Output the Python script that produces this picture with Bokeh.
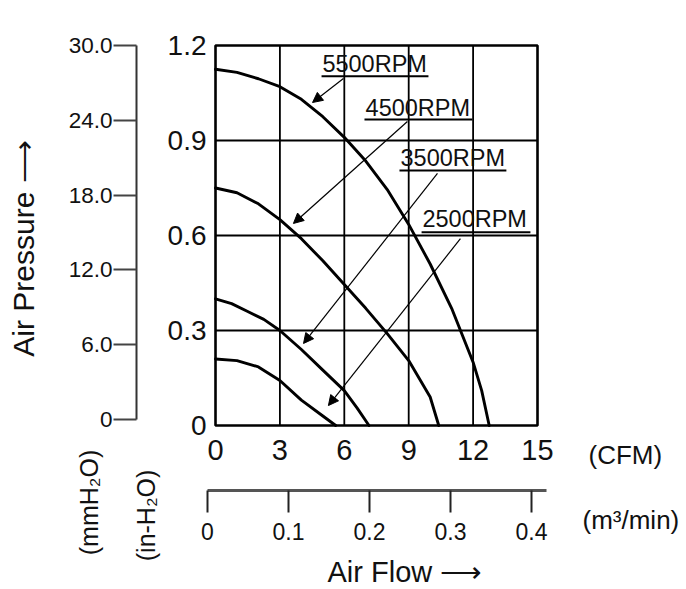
from bokeh.plotting import figure
from bokeh.models import Range1d, LinearAxis, FixedTicker, ColumnDataSource, Arrow, NormalHead
from bokeh.core.properties import value
from bokeh.embed import file_html
from bokeh.resources import INLINE

FONT = "Liberation Sans"

# ---- data ----
cfm_5500 = [0, 1, 2, 3, 4, 5, 6, 7, 8, 9, 10, 11, 12, 12.4, 12.75]
prs_5500 = [1.125, 1.115, 1.095, 1.07, 1.03, 0.975, 0.91, 0.835, 0.745, 0.635, 0.51, 0.37, 0.2, 0.11, 0.0]

cfm_4500 = [0, 1, 2, 3, 4, 5, 6, 7, 8, 9, 10, 10.4]
prs_4500 = [0.75, 0.735, 0.70, 0.65, 0.59, 0.52, 0.445, 0.37, 0.29, 0.205, 0.09, 0.0]

cfm_3500 = [0, 0.75, 1.5, 2.25, 3, 4, 5, 6, 6.6, 7.15]
prs_3500 = [0.40, 0.385, 0.36, 0.335, 0.30, 0.24, 0.175, 0.11, 0.055, 0.0]

cfm_2500 = [0, 1, 2, 3, 4, 5, 5.6]
prs_2500 = [0.21, 0.205, 0.185, 0.142, 0.08, 0.03, 0.0]

rpm_labels = ["5500RPM", "4500RPM", "3500RPM", "2500RPM"]

cfm_ticks = [0, 3, 6, 9, 12, 15]
inh2o_ticks = [0, 0.3, 0.6, 0.9, 1.2]
inh2o_tick_labels = ["0", "0.3", "0.6", "0.9", "1.2"]
mmh2o_ticks = [0, 6, 12, 18, 24, 30]
mmh2o_tick_labels = ["0", "6.0", "12.0", "18.0", "24.0", "30.0"]
m3_ticks = [0, 0.1, 0.2, 0.3, 0.4]
m3_tick_labels = ["0", "0.1", "0.2", "0.3", "0.4"]

# ---- placement (data units of the CFM / in-H2O scales) ----
lab_x = [4.98, 6.99, 8.62, 9.64]
lab_y = [1.142, 1.003, 0.845, 0.651]
ul_x0 = [4.94, 6.94, 8.57, 9.60]
ul_x1 = [9.92, 11.97, 13.55, 14.67]
ul_y = [1.103, 0.966, 0.805, 0.610]
ar_xs = [5.96, 8.94, 10.34, 11.41]
ar_ys = [1.096, 0.96, 0.796, 0.59]
ar_xe = [4.52, 3.63, 4.10, 5.26]
ar_ye = [1.02, 0.638, 0.259, 0.063]

p = figure(width=686, height=589, min_border=0,
           x_range=Range1d(-10.016, 21.941), y_range=Range1d(-0.5179, 1.3421),
           x_axis_location=None, y_axis_location=None,
           output_backend="svg", toolbar_location=None,
           background_fill_color="white", border_fill_color="white")
p.outline_line_color = None
p.xgrid.visible = False
p.ygrid.visible = False

# mmH2O scale (30 at the top of the box, 0 slightly above its bottom)
p.extra_y_ranges = {"mm": Range1d(-13.636, 33.61)}
# m3/min scale
p.extra_x_ranges = {"m3": Range1d(-0.25556, 0.59136)}

# grid and box
gx = cfm_ticks[1:-1]
gy = inh2o_ticks[1:-1]
p.segment(x0=gx, y0=[inh2o_ticks[0]] * len(gx), x1=gx, y1=[inh2o_ticks[-1]] * len(gx),
          line_color="black", line_width=1.8)
p.segment(x0=[cfm_ticks[0]] * len(gy), y0=gy, x1=[cfm_ticks[-1]] * len(gy), y1=gy,
          line_color="black", line_width=1.8)
p.quad(left=[cfm_ticks[0]], right=[cfm_ticks[-1]], bottom=[inh2o_ticks[0]], top=[inh2o_ticks[-1]],
       fill_color=None, line_color="black", line_width=2.6)

def style_axis(ax, size, standoff, tick_out=0):
    ax.major_label_text_font = FONT
    ax.major_label_text_font_size = size
    ax.major_label_text_color = "#111111"
    ax.major_label_standoff = standoff
    ax.major_tick_out = tick_out
    ax.major_tick_in = 0
    ax.minor_tick_out = 0
    ax.minor_tick_in = 0

# in-H2O axis at the left edge of the box
ya = LinearAxis(ticker=FixedTicker(ticks=inh2o_ticks), fixed_location=cfm_ticks[0])
ya.major_label_overrides = dict(zip(inh2o_ticks, inh2o_tick_labels))
style_axis(ya, "28px", 9)
ya.axis_line_color = None
p.add_layout(ya, "left")

# mmH2O axis
mm = LinearAxis(y_range_name="mm", ticker=FixedTicker(ticks=mmh2o_ticks),
                fixed_location=-3.68, bounds=(mmh2o_ticks[0], mmh2o_ticks[-1]))
mm.major_label_overrides = dict(zip(mmh2o_ticks, mmh2o_tick_labels))
style_axis(mm, "22.5px", 1, 23)
mm.major_tick_line_width = 2
mm.major_tick_line_color = "#444444"
mm.axis_line_width = 2
mm.axis_line_color = "#333333"
p.add_layout(mm, "left")

# CFM axis at the bottom edge of the box
xa = LinearAxis(ticker=FixedTicker(ticks=cfm_ticks), fixed_location=inh2o_ticks[0])
style_axis(xa, "29px", 15)
xa.axis_line_color = None
p.add_layout(xa, "below")

# m3/min axis
m3 = LinearAxis(x_range_name="m3", ticker=FixedTicker(ticks=m3_ticks),
                fixed_location=-0.2053, bounds=(m3_ticks[0], 0.4185))
m3.major_label_overrides = dict(zip(m3_ticks, m3_tick_labels))
style_axis(m3, "23px", 10, 22)
m3.major_tick_line_width = 2
m3.major_tick_line_color = "#222222"
m3.axis_line_width = 3
m3.axis_line_color = "#555555"
p.add_layout(m3, "below")

# curves
for xs, ys in ((cfm_5500, prs_5500), (cfm_4500, prs_4500), (cfm_3500, prs_3500), (cfm_2500, prs_2500)):
    p.line(xs, ys, line_color="black", line_width=2.9, line_join="round", line_cap="round")

# rpm labels, underlines, arrows
p.text(x=lab_x, y=lab_y, text=rpm_labels, text_font=value(FONT), text_font_size="23.5px",
       text_color="#111111", text_align="left", text_baseline="middle")
p.segment(x0=ul_x0, y0=ul_y, x1=ul_x1, y1=ul_y, line_color="black", line_width=2)
arr_src = ColumnDataSource(dict(xs=ar_xs, ys=ar_ys, xe=ar_xe, ye=ar_ye))
p.add_layout(Arrow(x_start="xs", y_start="ys", x_end="xe", y_end="ye", source=arr_src,
                   line_color="black", line_width=1.2,
                   end=NormalHead(size=10, fill_color="black", line_color="black", line_width=1)))

# titles and unit labels
def txt(text, x, y, size, align="left", angle=0.0):
    p.text(x=[x], y=[y], text=[text], text_font=value(FONT), text_font_size=size,
           text_color="#111111", text_align=align, text_baseline="middle",
           angle=angle, angle_units="deg")

txt("Air Pressure \u27f6", -8.967, 0.559, "30px", align="center", angle=90)
txt("(mmH\u2082O)", -5.916, -0.243, "25px", align="center", angle=90)
txt("(in-H\u2082O)", -3.261, -0.284, "25px", align="center", angle=90)
txt("(CFM)", 17.376, -0.0916, "26px")
txt("(m\u00b3/min)", 17.096, -0.300, "26px")
txt("Air Flow \u27f6", 5.217, -0.462, "29px")

open("out.html", "w").write(file_html(p, INLINE))
